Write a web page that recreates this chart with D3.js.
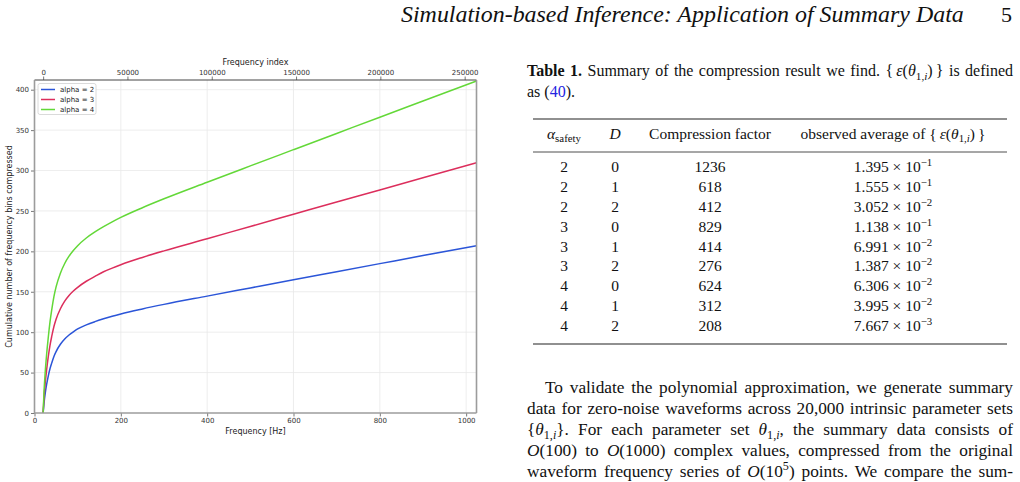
<!DOCTYPE html>
<meta charset="utf-8">
<head>
<style>
  body { margin: 0; background: #fff; width: 1020px; height: 482px; overflow: hidden; }
  svg { display: block; }
  .tick text { font-family: "DejaVu Sans", sans-serif; font-size: 7px; fill: #333; }
  .tick line { stroke: #555; stroke-width: 0.8; }
  .grid line { stroke: #e9e9e9; stroke-width: 0.8; }
  .axis-label { font-family: "DejaVu Sans", sans-serif; font-size: 8px; fill: #222; }
  .legend text { font-family: "DejaVu Sans", sans-serif; font-size: 7px; fill: #222; }
  .serif { font-family: "Liberation Serif", "Times New Roman", serif; fill: #111; }
</style>
<script src="https://cdn.jsdelivr.net/npm/d3@7"></script>
</head>
<body>
<script>

// ---- chart data ----
var freqHz = [20, 22, 25, 28, 32, 36, 40, 45, 50, 60, 70, 80, 90, 100, 120, 140, 160, 180, 200, 250, 300, 400, 500, 600, 700, 800, 900, 1024];
var alpha2 = [0, 12, 25, 35, 46, 55, 62, 70, 76, 85, 91.5, 96.5, 100.5, 104, 109, 113, 116.5, 119.7, 122.6, 128.8, 134.4, 144.6, 154.7, 164.8, 174.8, 184.8, 194.8, 207];
var alpha3 = [0, 19, 38, 53, 70, 84, 95, 107, 116, 129, 138.5, 145.5, 151, 155.5, 163, 169, 174.7, 179.3, 183.5, 192.5, 200.6, 215.6, 230.8, 245.9, 261, 276, 291, 309.6];
var alpha4 = [0, 26, 52, 72, 94, 113, 128, 144, 156, 173, 185, 194, 201, 207, 216.5, 224, 230.5, 236.5, 242, 254, 265, 285.5, 305.7, 325.8, 345.9, 366, 386, 410.8];
var seriesNames = ["alpha = 2", "alpha = 3", "alpha = 4"];
var seriesColors = ["#2b55d8", "#dc2e5c", "#63d838"];

var xTicksHz = [0, 200, 400, 600, 800, 1000];
var yTicks = [0, 50, 100, 150, 200, 250, 300, 350, 400];
var indexTicks = [0, 50000, 100000, 150000, 200000, 250000];

// ---- table data ----
var alphaSafety = [2, 2, 2, 3, 3, 3, 4, 4, 4];
var dOrder = [0, 1, 2, 0, 1, 2, 0, 1, 2];
var compressionFactor = [1236, 618, 412, 829, 414, 276, 624, 312, 208];
var avgMantissa = ["1.395", "1.555", "3.052", "1.138", "6.991", "1.387", "6.306", "3.995", "7.667"];
var avgExponent = [-1, -1, -2, -1, -2, -2, -2, -2, -3];

// ---- page text ----
var runningHead = "Simulation-based Inference: Application of Summary Data";
var pageNumber = "5";
var captionLines = [
  "<b>Table 1.</b> Summary of the compression result we find. {\u2009<i>ε</i>(<i>θ</i><sub>1,<i>i</i></sub>)\u2009} is defined",
  "as (<a>40</a>)."
];
var headerCells = [
  "<i>α</i><sub>safety</sub>",
  "<i>D</i>",
  "Compression factor",
  "observed average of {\u2009<i>ε</i>(<i>θ</i><sub>1,<i>i</i></sub>)\u2009}"
];
var paragraphLines = [
  "To validate the polynomial approximation, we generate summary",
  "data for zero-noise waveforms across 20,000 intrinsic parameter sets",
  "{<i>θ</i><sub>1,<i>i</i></sub>}. For each parameter set <i>θ</i><sub>1,<i>i</i></sub>, the summary data consists of",
  "<i>O</i>(100) to <i>O</i>(1000) complex values, compressed from the original",
  "waveform frequency series of <i>O</i>(10<sup>5</sup>) points. We compare the sum-"
];

var width = 1020, height = 482;
var svg = d3.select("body").append("svg")
    .attr("width", width)
    .attr("height", height);

// ================= chart =================
var plot = {left: 34.5, right: 476.5, top: 80, bottom: 413};

var x = d3.scaleLinear().domain([0, 1024]).range([plot.left, plot.right]);
var y = d3.scaleLinear().domain([0, 412]).range([plot.bottom, plot.top]);
// frequency index: 256 bins per Hz, starting at 20 Hz
var xi = d3.scaleLinear().domain([(0 - 20) * 256, (1024 - 20) * 256]).range([plot.left, plot.right]);

var grid = svg.append("g").attr("class", "grid");
grid.selectAll(".gx").data(xTicksHz.slice(1)).enter().append("line")
    .attr("x1", function(d) { return x(d); }).attr("x2", function(d) { return x(d); })
    .attr("y1", plot.top).attr("y2", plot.bottom);
grid.selectAll(".gy").data(yTicks.slice(1)).enter().append("line")
    .attr("x1", plot.left).attr("x2", plot.right)
    .attr("y1", function(d) { return y(d); }).attr("y2", function(d) { return y(d); });

var line = d3.line()
    .x(function(d) { return x(d[0]); })
    .y(function(d) { return y(d[1]); })
    .curve(d3.curveMonotoneX);

[alpha2, alpha3, alpha4].forEach(function(vals, k) {
  svg.append("path")
      .datum(freqHz.map(function(f, i) { return [f, vals[i]]; }))
      .attr("fill", "none")
      .attr("stroke", seriesColors[k])
      .attr("stroke-width", 1.5)
      .attr("d", line);
});

// axes
var gx = svg.append("g").attr("transform", "translate(0," + plot.bottom + ")")
    .call(d3.axisBottom(x).tickValues(xTicksHz).tickSize(3.5).tickPadding(2).tickFormat(d3.format("d")));
var gy = svg.append("g").attr("transform", "translate(" + plot.left + ",0)")
    .call(d3.axisLeft(y).tickValues(yTicks).tickSize(3.5).tickPadding(2).tickFormat(d3.format("d")));
var gt = svg.append("g").attr("transform", "translate(0," + plot.top + ")")
    .call(d3.axisTop(xi).tickValues(indexTicks).tickSize(3.5).tickPadding(2).tickFormat(d3.format("d")));
[gx, gy, gt].forEach(function(g) { g.select(".domain").remove(); g.attr("font-family", null).attr("font-size", null); });

// spines
svg.append("line").attr("x1", plot.left).attr("x2", plot.right).attr("y1", plot.top).attr("y2", plot.top)
    .attr("stroke", "#444").attr("stroke-width", 1);
[[plot.left, plot.top, plot.left, plot.bottom], [plot.right, plot.top, plot.right, plot.bottom],
 [plot.left, plot.bottom, plot.right, plot.bottom]].forEach(function(s) {
  svg.append("line").attr("x1", s[0]).attr("y1", s[1]).attr("x2", s[2]).attr("y2", s[3])
      .attr("stroke", "#9c9c9c").attr("stroke-width", 1.6);
});

// axis labels
svg.append("text").attr("class", "axis-label").attr("x", (plot.left + plot.right) / 2).attr("y", 434)
    .attr("text-anchor", "middle").text("Frequency [Hz]");
svg.append("text").attr("class", "axis-label").attr("x", (plot.left + plot.right) / 2).attr("y", 65)
    .attr("text-anchor", "middle").text("Frequency index");
svg.append("text").attr("class", "axis-label")
    .attr("transform", "translate(12," + (plot.top + plot.bottom) / 2 + ") rotate(-90)")
    .attr("text-anchor", "middle").text("Cumulative number of frequency bins compressed");

// legend
var legend = svg.append("g").attr("class", "legend").attr("transform", "translate(38,83.5)");
legend.append("rect").attr("width", 58).attr("height", 31).attr("rx", 2)
    .attr("fill", "#fff").attr("stroke", "#d0d0d0").attr("stroke-width", 0.8);
var item = legend.selectAll(".item").data(seriesNames).enter().append("g")
    .attr("transform", function(d, i) { return "translate(0," + (6 + i * 10) + ")"; });
item.append("line").attr("x1", 3).attr("x2", 17)
    .attr("stroke", function(d, i) { return seriesColors[i]; }).attr("stroke-width", 1.5);
item.append("text").attr("x", 22).attr("dy", "0.35em").text(function(d) { return d; });

// ================= text side =================
function richText(sel, markup, fs) {
  var parts = markup.split(/(<\/?(?:i|b|sub|sup|a)>)/);
  var st = {i: 0, b: 0, sub: 0, sup: 0, a: 0};
  parts.forEach(function(p) {
    if (!p) return;
    var m = p.match(/^<(\/?)(i|b|sub|sup|a)>$/);
    if (m) { st[m[2]] += m[1] ? -1 : 1; return; }
    var t = sel.append("tspan").text(p);
    if (st.i) t.attr("font-style", "italic");
    if (st.b) t.attr("font-weight", "bold");
    if (st.a) t.attr("fill", "#2323e0");
    if (st.sub) t.attr("font-size", fs * 0.7).attr("baseline-shift", (-fs * 0.22) + "px");
    if (st.sup) t.attr("font-size", fs * 0.7).attr("baseline-shift", (fs * 0.4) + "px");
  });
  return sel;
}

function justify(sel, target) {
  var node = sel.node();
  var len = node.getComputedTextLength();
  var n = (node.textContent.match(/ /g) || []).length;
  if (n) sel.attr("word-spacing", (target - len) / n);
}

// running head
var head = svg.append("text").attr("class", "serif").attr("x", 401).attr("y", 21.5)
    .attr("font-size", 22).attr("font-style", "italic").text(runningHead);
var hl = head.node().getComputedTextLength();
head.attr("font-size", 22 * 563 / hl);
svg.append("text").attr("class", "serif").attr("x", 1012).attr("y", 21.5)
    .attr("text-anchor", "end").attr("font-size", 22).text(pageNumber);

// caption
var capFs = 16;
captionLines.forEach(function(l, i) {
  var t = svg.append("text").attr("class", "serif").attr("x", 527).attr("y", 76 + i * 21)
      .attr("font-size", capFs);
  richText(t, l, capFs);
  if (i === 0) justify(t, 1013 - 527);
});

// table
var colX = [564, 615, 710, 893];
var tabFs = 15.5;
var rule = function(yy, w) {
  svg.append("line").attr("x1", 533).attr("x2", 1007).attr("y1", yy).attr("y2", yy)
      .attr("stroke", "#222").attr("stroke-width", w);
};
rule(119, 1.2); rule(152, 0.8); rule(344, 1.2);

headerCells.forEach(function(h, j) {
  var t = svg.append("text").attr("class", "serif").attr("x", colX[j]).attr("y", 139)
      .attr("text-anchor", "middle").attr("font-size", tabFs);
  richText(t, h, tabFs);
});

var rowY = d3.scaleLinear().domain([0, 8]).range([172, 331]);
alphaSafety.forEach(function(a, i) {
  var cells = [String(a), String(dOrder[i]), String(compressionFactor[i]),
    avgMantissa[i] + " \u00d7 10<sup>\u2212" + Math.abs(avgExponent[i]) + "</sup>"];
  cells.forEach(function(c, j) {
    var t = svg.append("text").attr("class", "serif").attr("x", colX[j]).attr("y", rowY(i))
        .attr("text-anchor", "middle").attr("font-size", tabFs);
    richText(t, c, tabFs);
  });
});

// body paragraph
var parFs = 17.3;
paragraphLines.forEach(function(l, i) {
  var x0 = i === 0 ? 545 : 527;
  var t = svg.append("text").attr("class", "serif").attr("x", x0).attr("y", 393 + i * 21)
      .attr("font-size", parFs);
  richText(t, l, parFs);
  justify(t, 1013 - x0);
});

</script>
</body>
